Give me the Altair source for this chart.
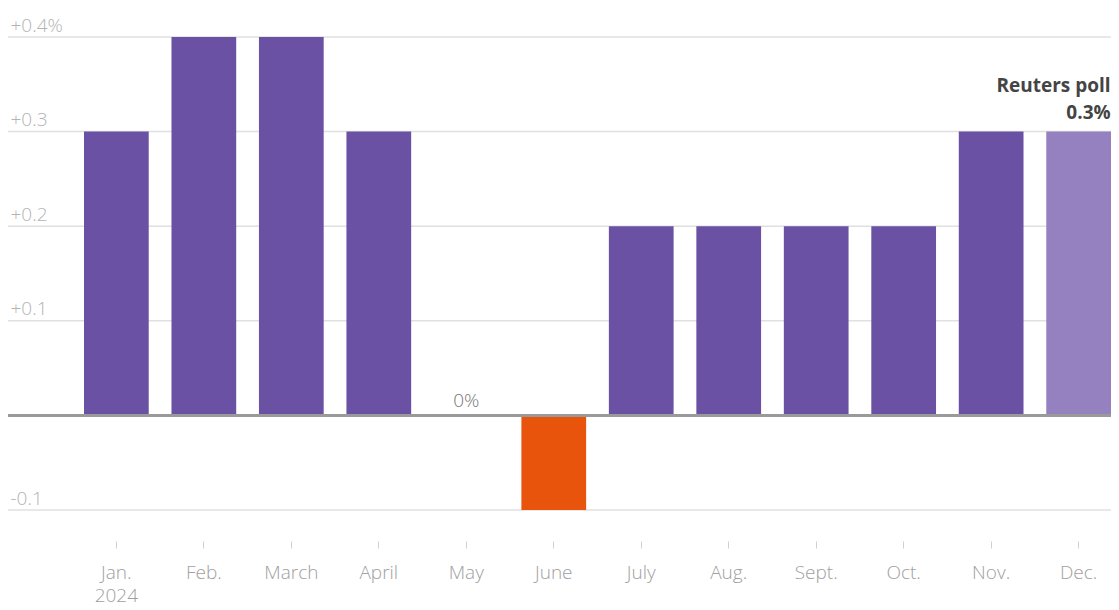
import altair as alt
import pandas as pd

months = ["Jan.", "Feb.", "March", "April", "May", "June", "July", "Aug.",
          "Sept.", "Oct.", "Nov.", "Dec."]
values = [0.3, 0.4, 0.4, 0.3, 0.0, -0.1, 0.2, 0.2, 0.2, 0.2, 0.3, 0.3]
kinds = ["actual"] * 11 + ["poll"]
kind_names = ["actual_pos", "actual_neg", "poll"]
kind_colors = ["#6a51a3", "#e8540c", "#9580c0"]
y_ticks = [-0.1, 0.0, 0.1, 0.2, 0.3, 0.4]
grid_values = [-0.1, 0.1, 0.2, 0.3, 0.4]

kind_col = []
for v, k in zip(values, kinds):
    if k == "poll":
        kind_col.append("poll")
    elif v < 0:
        kind_col.append("actual_neg")
    else:
        kind_col.append("actual_pos")

df = pd.DataFrame({"month": months, "value": values, "kind": kind_col})
grid_df = pd.DataFrame({"value": grid_values})

FONT = "Open Sans"
W = 1103

x = alt.X("month:N", sort=months,
          scale=alt.Scale(domain=months, range=[76, 1103], paddingInner=0.26, paddingOuter=0,
                          round=False),
          axis=alt.Axis(title=None, orient="bottom", offset=31, domain=False, ticks=True,
                        tickSize=7, tickColor="#d0d0d0", tickWidth=1, labelPadding=15,
                        labelFontSize=19, labelColor="#a0a0a0", labelFont=FONT,
                        labelFontWeight=300,
                        labelAngle=0, labelLineHeight=23,
                        labelExpr="datum.value == 'Jan.' ? ['Jan.', '2024'] : datum.value"))
y_scale = alt.Scale(domain=[-0.1, 0.4], nice=False, zero=False)
y_axis = alt.Axis(title=None, values=y_ticks, domain=False, ticks=False, grid=False,
                  labelAlign="left", labelBaseline="alphabetic", labelPadding=-2,
                  labelOffset=-6, labelFontSize=19, labelColor="#b3b3b3", labelFont=FONT,
                  labelFontWeight=300,
                  labelExpr="datum.value == 0.4 ? '+0.4%' : (datum.value > 0 ? '+' + format(datum.value, '.1f') : (datum.value == 0 ? '' : '-' + format(-datum.value, '.1f')))")

grid = alt.Chart(grid_df).mark_rule(color="#e0e0e0", strokeWidth=1.5).encode(
    y=alt.Y("value:Q", scale=y_scale, axis=y_axis),
    x=alt.value(0), x2=alt.value(W))

bars = alt.Chart(df).mark_bar().encode(
    x=x,
    y=alt.Y("value:Q", scale=y_scale, axis=y_axis),
    y2=alt.datum(0),
    color=alt.Color("kind:N", scale=alt.Scale(domain=kind_names, range=kind_colors), legend=None),
)

zero = alt.Chart(df).mark_rule(color="#9a9a9a", strokeWidth=2).encode(
    y=alt.datum(0), x=alt.value(0), x2=alt.value(W))

may_df = df[df["month"] == "May"].assign(label="0%")
may_text = alt.Chart(may_df).mark_text(fontSize=19, fontWeight=300, color="#777777", font=FONT,
                                       baseline="alphabetic", dy=-8).encode(
    x=alt.X("month:N", sort=months), y="value:Q", text="label:N")

dec_df = df[df["month"] == "Dec."].assign(l1="Reuters poll", l2="0.3%")
poll1 = alt.Chart(dec_df).mark_text(fontSize=19, fontWeight="bold", color="#444444", font=FONT,
                                    align="right", baseline="alphabetic", dx=32, dy=-40).encode(
    x=alt.X("month:N", sort=months), y="value:Q", text="l1:N")
poll2 = alt.Chart(dec_df).mark_text(fontSize=19, fontWeight="bold", color="#444444", font=FONT,
                                    align="right", baseline="alphabetic", dx=32, dy=-13).encode(
    x=alt.X("month:N", sort=months), y="value:Q", text="l2:N")

chart = alt.layer(grid, bars, zero, may_text, poll1, poll2).properties(
    width=W, height=473,
    autosize=alt.AutoSizeParams(type="none"),
    padding={"left": 0, "right": 0, "top": 29, "bottom": 98},
).configure_view(stroke=None)

chart.save("out.html", embed_options={"renderer": "svg", "actions": False})
